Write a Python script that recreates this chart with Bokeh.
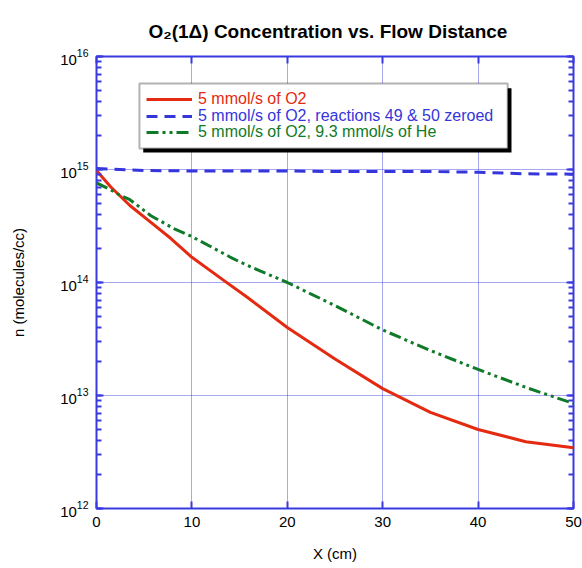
from bokeh.plotting import figure
from bokeh.models import (LogAxis, LinearAxis, Legend, LegendItem, BoxAnnotation,
                          FixedTicker, LogTicker, Range1d)
from bokeh.embed import file_html
from bokeh.resources import INLINE

# ---- data ----
x_red = [0, 1.5, 3.5, 5.7, 7.8, 10, 13.3, 15.8, 20, 25, 30, 35, 40, 45, 50]
n_red = [9.8e14, 7.0e14, 4.8e14, 3.4e14, 2.45e14, 1.67e14, 1.05e14, 7.4e13, 4.0e13,
         2.1e13, 1.15e13, 7.1e12, 5.0e12, 3.9e12, 3.45e12]

x_blue = [0, 5, 10, 15, 20, 25, 30, 35, 40, 43, 45, 50]
n_blue = [1.02e15, 9.8e14, 9.7e14, 9.7e14, 9.7e14, 9.6e14, 9.6e14, 9.6e14, 9.46e14,
          9.3e14, 9.15e14, 9.1e14]

x_green = [0, 1.5, 2.5, 3.5, 4.6, 5.7, 6.7, 8.1, 10, 12, 14, 15.1, 17.2, 20,
           25, 30, 35, 40, 45, 50]
n_green = [7.6e14, 6.6e14, 5.9e14, 5.4e14, 4.6e14, 3.9e14, 3.5e14, 3.0e14, 2.55e14,
           2.07e14, 1.68e14, 1.51e14, 1.26e14, 1.0e14,
           6.25e13, 3.8e13, 2.5e13, 1.7e13, 1.18e13, 8.5e12]

labels = ["5 mmol/s of O2",
          "5 mmol/s of O2, reactions 49 & 50 zeroed",
          "5 mmol/s of O2, 9.3 mmol/s of He"]
x_ticks = [0, 10, 20, 30, 40, 50]

RED = "#e42a10"
BLUE = "#3535dc"
GREEN = "#0f7a27"
FRAME = "#3a3ae0"
FONT = "Liberation Sans"

p = figure(y_axis_type="log",
           x_range=Range1d(0, 50), y_range=Range1d(1e12, 1e16),
           output_backend="svg", toolbar_location=None,
           frame_width=477, frame_height=452,
           min_border_left=96, min_border_right=9, min_border_top=56, min_border_bottom=10,
           title="O\u2082(1\u0394) Concentration vs. Flow Distance")

p.title.text_font = FONT
p.title.text_font_size = "19px"
p.title.text_font_style = "bold"
p.title.align = "left"
p.title.offset = 52
p.title.vertical_align = "bottom"
p.title.standoff = 29
p.title.text_color = "black"

p.outline_line_color = FRAME
p.outline_line_width = 2
p.outline_line_alpha = 1

# lines
r_red = p.line(x_red, n_red, line_color=RED, line_width=3)
r_blue = p.line(x_blue, n_blue, line_color=BLUE, line_width=3, line_dash="11 7")
r_green = p.line(x_green, n_green, line_color=GREEN, line_width=3, line_dash="12 4 3 4 3 4")

# axes
xa = p.xaxis[0]
xa.ticker = FixedTicker(ticks=x_ticks)
xa.axis_label = "X (cm)"
ya = p.yaxis[0]
ya.ticker = LogTicker(num_minor_ticks=10)
ya.axis_label = "n (molecules/cc)"

for ax in (xa, ya):
    ax.axis_line_color = None
    ax.major_tick_in = 7
    ax.major_tick_out = 0
    ax.minor_tick_in = 5
    ax.minor_tick_out = 0
    ax.major_tick_line_color = FRAME
    ax.minor_tick_line_color = FRAME
    ax.major_tick_line_width = 2
    ax.minor_tick_line_width = 2
    ax.major_label_text_font = FONT
    ax.major_label_text_font_size = "15px"
    ax.major_label_text_color = "black"
    ax.axis_label_text_font = FONT
    ax.axis_label_text_font_size = "15px"
    ax.axis_label_text_font_style = "normal"
    ax.axis_label_text_color = "black"
xa.minor_tick_line_color = None
xa.major_label_standoff = 8
xa.axis_label_standoff = 15
ya.major_label_standoff = 8
ya.axis_label_standoff = 30

top = LinearAxis(ticker=FixedTicker(ticks=x_ticks), major_label_text_font_size="1px",
                 major_label_text_color=None,
                 axis_line_color=None, major_tick_in=7, major_tick_out=0,
                 major_tick_line_color=FRAME, major_tick_line_width=2,
                 minor_tick_line_color=None, major_label_standoff=0)
p.add_layout(top, "above")
right = LogAxis(ticker=LogTicker(num_minor_ticks=10), major_label_text_font_size="1px",
                major_label_text_color=None,
                axis_line_color=None, major_tick_in=7, major_tick_out=0,
                minor_tick_in=5, minor_tick_out=0,
                major_tick_line_color=FRAME, major_tick_line_width=2,
                minor_tick_line_color=FRAME, minor_tick_line_width=2, major_label_standoff=0)
p.add_layout(right, "right")

for g in (p.xgrid[0], p.ygrid[0]):
    g.grid_line_color = FRAME
    g.grid_line_dash = "1 1"
    g.grid_line_width = 1
    g.grid_line_alpha = 0.9
p.xgrid[0].ticker = FixedTicker(ticks=x_ticks)

# legend box with shadow
shadow = BoxAnnotation(left=4.9, right=43.5, top=10**15.72, bottom=10**15.15,
                       fill_color="black", fill_alpha=1, line_color=None)
box = BoxAnnotation(left=4.5, right=43.1, top=10**15.76, bottom=10**15.186,
                    fill_color="white", fill_alpha=1, line_color="black", line_width=2)
p.add_layout(shadow)
p.add_layout(box)

rows = [(r_red, RED, 400), (r_blue, BLUE, 383), (r_green, GREEN, 367)]
for (r, c, yb), lab in zip(rows, labels):
    lg = Legend(items=[LegendItem(label=lab, renderers=[r])], location=(50, yb),
                border_line_color=None, background_fill_alpha=0,
                padding=0, margin=0, glyph_width=46, glyph_height=16, label_height=16,
                label_standoff=6, label_text_font=FONT, label_text_font_size="16px",
                label_text_color=c)
    p.add_layout(lg, "center")

open("out.html", "w").write(file_html(p, INLINE))
